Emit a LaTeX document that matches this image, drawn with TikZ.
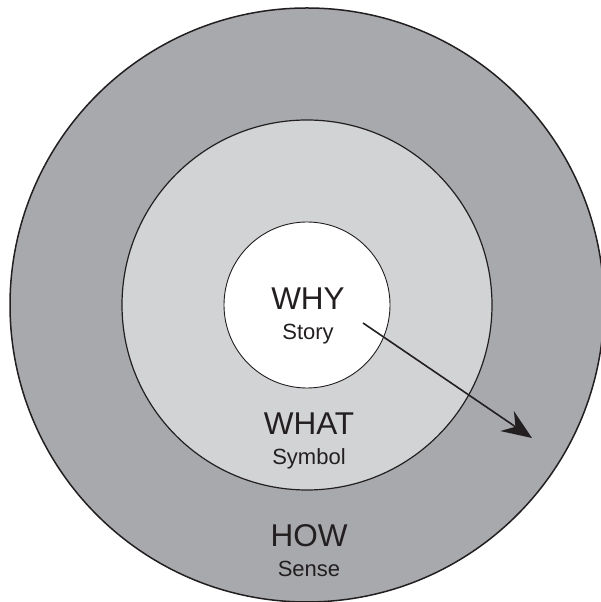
\documentclass[tikz,border=0pt]{standalone}
\usepackage{fontspec}
\setmainfont{Liberation Sans}
\usetikzlibrary{arrows.meta}
\definecolor{howgray}{HTML}{A7A9AC}
\definecolor{whatgray}{HTML}{D1D3D4}
\definecolor{ink}{HTML}{231F20}

\begin{document}
\begin{tikzpicture}[x=1pt, y=1pt, ink,
    ring/.style = {draw, circle, inner sep=0pt},
    big/.style = {anchor=base, font=\fontsize{31.5}{36}\selectfont},
    small/.style = {anchor=base, font=\fontsize{22}{26}\selectfont}]
    \useasboundingbox (0,0) rectangle (600,602);
    % the three rings
    \node[ring, fill=howgray, line width=1.5pt, minimum size=594pt] (how) at (307,297) {};
    \node[ring, fill=whatgray, line width=1.2pt, minimum size=370pt] (what) at (how.center) {};
    \node[ring, fill=white, line width=0.9pt, minimum size=166pt] (why) at (how.center) {};
    % labels
    \node[big] (whyt) at (308,292) {WHY};
    \node[small] (whys) at (308,262) {Story};
    \node[big] (whatt) at (309,167) {WHAT};
    \node[small] (whats) at (309,137) {Symbol};
    \node[big] (howt) at (309,55) {HOW};
    \node[small] (hows) at (309,25) {Sense};
    % arrow
    \coordinate (start) at (363,279);
    \coordinate (tip) at (532,164);
    \draw[-{Stealth[length=30pt, width=24pt, inset=10pt]}, line width=1.6pt] (start) -- (tip);
\end{tikzpicture}
\end{document}
